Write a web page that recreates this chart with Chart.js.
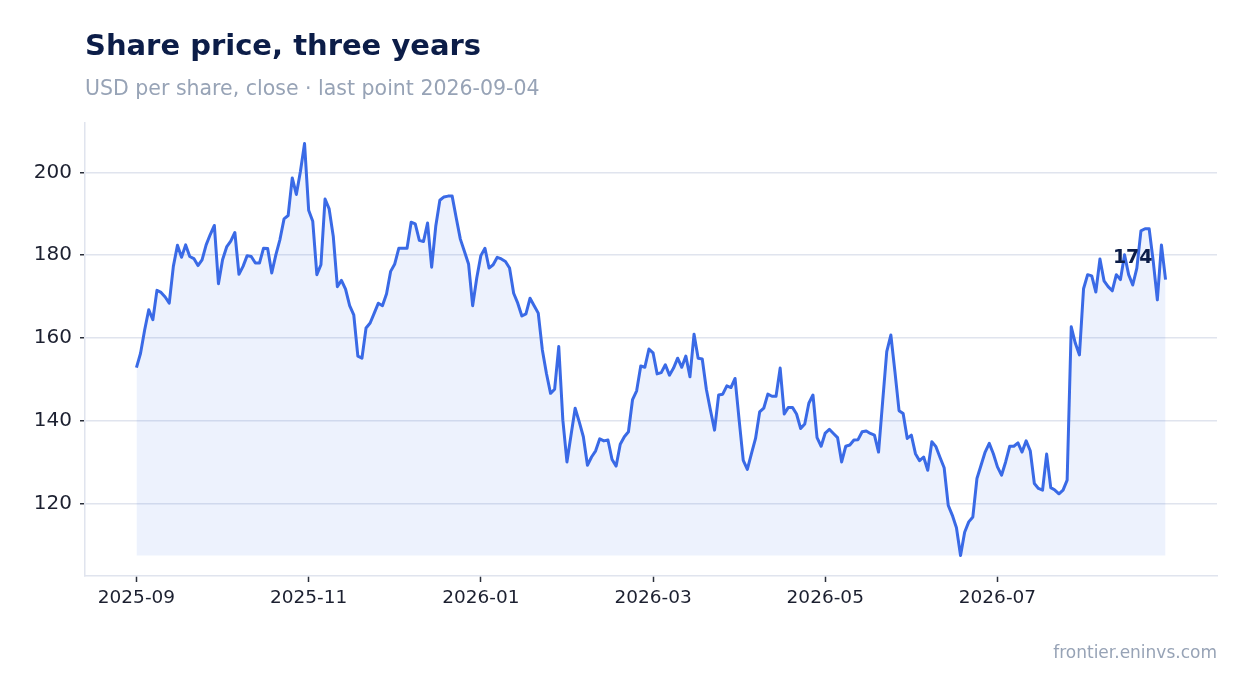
<!DOCTYPE html>
<html>
<head>
<meta charset="utf-8">
<title>Share price, three years</title>
<script src="https://cdn.jsdelivr.net/npm/chart.js@4.4.1/dist/chart.umd.min.js"></script>
<style>
  html, body { margin: 0; padding: 0; background: #ffffff; }
  #marco { position: relative; width: 1247px; height: 693px; }
</style>
</head>
<body>
<div id="marco"><canvas id="grafica" width="1247" height="693"></canvas></div>
<script>
// ======= DATOS =======
const chartTitle = "Share price, three years";
const chartSubtitle = "USD per share, close \u00b7 last point 2026-09-04";
const sourceNote = "frontier.eninvs.com";

// daily close, one value per trading session
const closePrices = [
  152.8, 156.3, 161.9, 166.8, 164.4, 171.5, 171.0, 169.9, 168.4, 177.3,
  182.4, 179.5, 182.5, 179.7, 179.2, 177.5, 178.9, 182.5, 185.0, 187.2,
  173.1, 178.9, 182.0, 183.4, 185.5, 175.4, 177.3, 179.9, 179.7, 178.1,
  178.1, 181.7, 181.6,
  175.7, 180.1, 183.8, 188.8, 189.6, 198.7, 194.7, 200.3, 207.0, 190.9,
  188.2, 175.3, 177.7, 193.6, 191.2, 184.6, 172.4, 173.9, 171.8, 167.8,
  165.6, 155.6, 155.1, 162.4, 163.6, 166.0, 168.4, 167.8, 170.7, 176.1,
  177.9, 181.7, 181.7,
  181.7, 188.0, 187.6, 183.6, 183.3, 187.8, 177.1, 187.0, 193.3, 194.1,
  194.3, 194.3, 189.0, 183.9, 180.9, 177.9, 167.8, 174.5, 179.9, 181.7,
  176.9, 177.7, 179.5, 179.1, 178.5, 176.9, 170.8, 168.4, 165.3, 165.8,
  169.6, 167.8, 166.0,
  157.1, 151.4, 146.6, 147.6, 157.9, 140.1, 130.0, 136.5, 143.0, 139.7,
  136.1, 129.2, 131.2, 132.7, 135.6, 135.1, 135.3, 130.6, 129.0, 134.3,
  136.1, 137.3, 145.1, 147.2, 153.2, 152.9, 157.3, 156.4, 151.3, 151.6,
  153.5, 151.0,
  152.7, 155.1, 152.9, 155.6, 150.6, 160.9, 155.1, 154.9, 147.6, 142.5,
  137.7, 146.2, 146.4, 148.4, 148.0, 150.2, 140.1, 130.4, 128.2, 132.0,
  135.7, 142.1, 143.0, 146.4, 145.9, 145.9, 152.7, 141.6, 143.2, 143.2,
  141.6, 138.1,
  139.2, 144.2, 146.2, 135.9, 133.8, 137.0, 137.9, 136.9, 135.9, 130.0,
  133.8, 134.1, 135.3, 135.4, 137.3, 137.5, 136.9, 136.5, 132.4, 144.6,
  156.7, 160.7, 151.8, 142.4, 141.7, 135.7, 136.5, 132.0, 130.3, 131.2,
  128.0,
  134.9, 133.7, 131.1, 128.6, 119.5, 117.1, 114.1, 107.4, 113.0, 115.5,
  116.7, 126.0, 129.2, 132.4, 134.5, 132.0, 128.8, 126.8, 130.0, 133.8,
  133.8, 134.6, 132.4, 135.1, 132.7, 124.8, 123.6, 123.2, 131.9, 123.8,
  123.2, 122.3,
  123.2, 125.6, 162.7, 158.7, 155.9, 171.9, 175.3, 175.0, 171.1, 179.1,
  173.8, 172.4, 171.4, 175.3, 174.1, 180.1, 175.3, 172.8, 176.9, 185.9,
  186.4, 186.4, 178.5, 169.2, 182.5, 174.1
];

// x tick labels and the session index each one sits on
const tickLabels = ["2025-09", "2025-11", "2026-01", "2026-03", "2026-05", "2026-07"];
const tickIndex = [0, 42, 84, 126, 168, 210];
const yTicks = [120, 140, 160, 180, 200];

// ======= ESTILO =======
const fuente = "'DejaVu Sans', 'Noto Sans', sans-serif";
const lineColor = "#3a6ae6";
const fillColor = "rgba(58, 106, 230, 0.09)";
const axisColor = "#e0e4ee";
const inkColor = "#1c2030";
const navy = "#0c1d48";
const grayText = "#97a3b6";

// matplotlib-style 5% margins around the data
const n = closePrices.length;
const minVal = Math.min(...closePrices);
const maxVal = Math.max(...closePrices);
const yPad = (maxVal - minVal) * 0.05;
const xPad = (n - 1) * 0.05;

// ======= TEXTOS =======
const textos = {
  id: "textos",
  afterDraw(chart) {
    const ctx = chart.ctx;
    ctx.save();
    ctx.textBaseline = "alphabetic";
    ctx.textAlign = "left";
    ctx.fillStyle = navy;
    ctx.font = "bold 29px " + fuente;
    ctx.fillText(chartTitle, 85, 55);
    ctx.fillStyle = grayText;
    ctx.font = "20.5px " + fuente;
    ctx.fillText(chartSubtitle, 85, 95);
    ctx.textAlign = "right";
    ctx.font = "17px " + fuente;
    ctx.fillText(sourceNote, 1217, 658);

    // label for the last close
    const meta = chart.getDatasetMeta(0);
    const last = meta.data[meta.data.length - 1];
    ctx.fillStyle = navy;
    ctx.font = "bold 19px " + fuente;
    ctx.textBaseline = "middle";
    ctx.fillText(String(Math.round(closePrices[n - 1])), last.x - 13, last.y - 22);
    ctx.restore();
  }
};

// ======= GRAFICA =======
const ctx = document.getElementById("grafica").getContext("2d");
new Chart(ctx, {
  type: "line",
  data: {
    datasets: [{
      data: closePrices.map((v, i) => ({ x: i, y: v })),
      borderColor: lineColor,
      borderWidth: 3,
      backgroundColor: fillColor,
      fill: { value: minVal },
      pointRadius: 0,
      tension: 0,
      borderJoinStyle: "round"
    }]
  },
  options: {
    responsive: false,
    animation: false,
    devicePixelRatio: 1,
    layout: { padding: { top: 123, right: 30, left: 0, bottom: 0 } },
    plugins: {
      legend: { display: false },
      tooltip: { enabled: false }
    },
    scales: {
      x: {
        type: "linear",
        min: -xPad,
        max: n - 1 + xPad,
        afterBuildTicks: s => { s.ticks = tickIndex.map(v => ({ value: v })); },
        afterFit: s => { s.height = 117; },
        ticks: {
          autoSkip: false,
          maxRotation: 0,
          padding: 5,
          color: inkColor,
          font: { family: fuente, size: 18.5 },
          callback: v => tickLabels[tickIndex.indexOf(v)]
        },
        grid: {
          drawOnChartArea: false,
          drawTicks: true,
          tickLength: 6,
          tickColor: "#2a2f3a",
          tickWidth: 1.5
        },
        border: { display: true, color: axisColor, width: 1.5 }
      },
      y: {
        min: minVal - yPad,
        max: maxVal + yPad,
        afterBuildTicks: s => { s.ticks = yTicks.map(v => ({ value: v })); },
        afterFit: s => { s.width = 85; },
        ticks: {
          padding: 8,
          color: inkColor,
          font: { family: fuente, size: 20 }
        },
        grid: {
          color: axisColor,
          lineWidth: 1.5,
          drawTicks: true,
          tickLength: 5,
          tickColor: "#2a2f3a",
          tickWidth: 1.5
        },
        border: { display: true, color: axisColor, width: 1.5 }
      }
    }
  },
  plugins: [textos]
});
</script>
</body>
</html>
